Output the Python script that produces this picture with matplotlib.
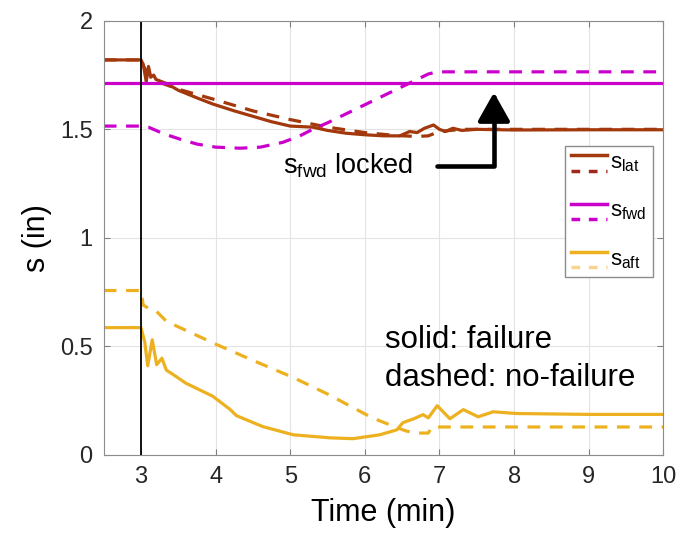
import numpy as np
import matplotlib
matplotlib.use('Agg')
import matplotlib.pyplot as plt
from matplotlib.lines import Line2D
from matplotlib.legend_handler import HandlerBase

plt.rcParams['font.family'] = ['Liberation Sans', 'DejaVu Sans']
plt.rcParams['mathtext.fontset'] = 'custom'
plt.rcParams['mathtext.rm'] = 'Liberation Sans'

# s_lat (failure / no-failure)
lat_t = [2.5, 3.0, 3.03, 3.07, 3.1, 3.13, 3.17, 3.2, 3.35, 3.5, 3.75, 3.96, 4.25, 4.5, 4.75,
         5.0, 5.3, 5.5, 5.75, 6.0, 6.25, 6.47, 6.6, 6.7, 6.8, 6.92, 7.0, 7.08, 7.18, 7.3, 7.5, 8.0, 9.0, 10.0]
lat_fail = [1.82, 1.82, 1.80, 1.72, 1.79, 1.74, 1.75, 1.73, 1.71, 1.68, 1.645, 1.617, 1.585, 1.56, 1.535,
            1.515, 1.51, 1.495, 1.482, 1.475, 1.47, 1.47, 1.49, 1.485, 1.505, 1.52, 1.50, 1.49, 1.505, 1.495, 1.50, 1.497, 1.498, 1.498]
lat_nofail_t = [2.5, 3.0, 3.05, 3.15, 3.3, 3.5, 3.96, 4.5, 5.0, 5.3, 5.5, 6.0, 6.4, 6.7, 6.85, 7.0, 7.3, 10.0]
lat_nofail = [1.82, 1.82, 1.78, 1.74, 1.71, 1.685, 1.64, 1.585, 1.545, 1.524, 1.51, 1.485, 1.472, 1.467, 1.47, 1.49, 1.50, 1.50]

# s_fwd
fwd_fail_t = [2.5, 10.0]
fwd_fail = [1.713, 1.713]
fwd_nofail_t = [2.5, 3.0, 3.1, 3.3, 3.52, 3.75, 4.0, 4.33, 4.6, 4.9, 5.13, 5.3, 5.5, 5.8, 6.1, 6.4, 6.7, 6.85, 6.97, 10.0]
fwd_nofail = [1.515, 1.515, 1.51, 1.48, 1.455, 1.432, 1.418, 1.413, 1.418, 1.44, 1.47, 1.50, 1.53, 1.58, 1.63, 1.68, 1.73, 1.755, 1.765, 1.765]

# s_aft
aft_fail_t = [2.5, 3.0, 3.05, 3.09, 3.15, 3.21, 3.28, 3.34, 3.43, 3.6, 3.96, 4.19, 4.28, 4.63, 5.04, 5.53, 5.84,
              6.2, 6.43, 6.51, 6.65, 6.78, 6.85, 6.97, 7.14, 7.32, 7.52, 7.72, 8.04, 9.0, 10.0]
aft_fail = [0.586, 0.586, 0.52, 0.41, 0.53, 0.415, 0.445, 0.39, 0.37, 0.33, 0.27, 0.21, 0.18, 0.13, 0.092, 0.078, 0.074,
            0.092, 0.115, 0.148, 0.165, 0.185, 0.17, 0.226, 0.166, 0.208, 0.175, 0.198, 0.19, 0.186, 0.186]
aft_nofail_t = [2.5, 3.0, 3.03, 3.1, 3.21, 3.34, 4.0, 4.5, 5.04, 5.5, 6.1, 6.43, 6.55, 6.67, 6.85, 6.9, 10.0]
aft_nofail = [0.757, 0.757, 0.69, 0.675, 0.66, 0.615, 0.51, 0.435, 0.356, 0.28, 0.17, 0.125, 0.11, 0.10, 0.10, 0.128, 0.128]

c_lat = '#a2380b'
c_lat2 = '#a0281c'
c_fwd = '#cc00cc'
c_aft = '#edb120'


class HandlerPair(HandlerBase):
    # draws a solid line above a dashed one, like the matlab legend
    def create_artists(self, legend, orig_handle, xdescent, ydescent, width, height, fontsize, trans):
        solid, dashed = orig_handle
        x = [-xdescent, width - xdescent]
        l1 = Line2D(x, [height * 0.85 - ydescent] * 2, color=solid.get_color(), lw=2.5, transform=trans)
        l2 = Line2D(x, [-height * 0.15 - ydescent] * 2, color=dashed.get_color(), lw=2.5,
                    dashes=(2.5, 2.5), transform=trans)
        return [l1, l2]


fig = plt.figure(figsize=(6.96, 5.35), dpi=100)
ax = fig.add_axes([0.149, 0.15, 0.804, 0.811])

dash = (4, 3)
ax.plot(lat_t, lat_fail, color=c_lat, lw=2.3)
ax.plot(lat_nofail_t, lat_nofail, color=c_lat, lw=2.3, dashes=dash)
ax.plot(fwd_fail_t, fwd_fail, color=c_fwd, lw=2.3)
ax.plot(fwd_nofail_t, fwd_nofail, color=c_fwd, lw=2.3, dashes=dash)
ax.plot(aft_fail_t, aft_fail, color=c_aft, lw=2.3)
ax.plot(aft_nofail_t, aft_nofail, color=c_aft, lw=2.3, dashes=dash)

ax.axvline(3, color='k', lw=1.3)

ax.set_xlim(2.5, 10)
ax.set_ylim(0, 2)
ax.set_xticks(range(3, 11))
ax.set_yticks([0, 0.5, 1, 1.5, 2])
ax.set_yticklabels(['0', '0.5', '1', '1.5', '2'])
ax.grid(True, color='#e3e3e3', lw=0.8)
ax.set_axisbelow(True)
ax.tick_params(direction='in', length=4, pad=8, top=True, right=True, labelsize=17,
               colors='#7f7f7f', labelcolor='#262626')
for sp in ax.spines.values():
    sp.set_color('#8c8c8c')
ax.set_xlabel('Time (min)', fontsize=22, labelpad=7)
ax.set_ylabel('s (in)', fontsize=22, labelpad=6)

ax.text(4.9, 1.33, r'$\mathregular{s_{fwd}}$ locked', fontsize=19.5, va='center')
ax.annotate('', xy=(7.73, 1.67), xytext=(6.97, 1.33),
            arrowprops=dict(arrowstyle='-|>,head_length=0.8,head_width=0.45', lw=3.3, color='k',
                            connectionstyle='angle,angleA=0,angleB=90,rad=0',
                            shrinkA=0, shrinkB=0, mutation_scale=22))

ax.text(6.27, 0.53, 'solid: failure', fontsize=22.5, va='center')
ax.text(6.27, 0.355, 'dashed: no-failure', fontsize=22.5, va='center')

handles = [(Line2D([], [], color=c_lat), Line2D([], [], color=c_lat2)),
           (Line2D([], [], color=c_fwd), Line2D([], [], color=c_fwd)),
           (Line2D([], [], color=c_aft), Line2D([], [], color='#f7d58f'))]
labels = [r'$\mathregular{s_{lat}}$', r'$\mathregular{s_{fwd}}$', r'$\mathregular{s_{aft}}$']
leg = ax.legend(handles, labels, handler_map={tuple: HandlerPair()}, loc='upper right',
                bbox_to_anchor=(0.982, 0.712), fontsize=16, fancybox=False, framealpha=1,
                edgecolor='#8c8c8c', handlelength=1.6, handletextpad=0.15, labelspacing=1.2,
                borderpad=0.3, borderaxespad=0)
leg.get_frame().set_linewidth(1)

plt.savefig('out.png', dpi=100)
